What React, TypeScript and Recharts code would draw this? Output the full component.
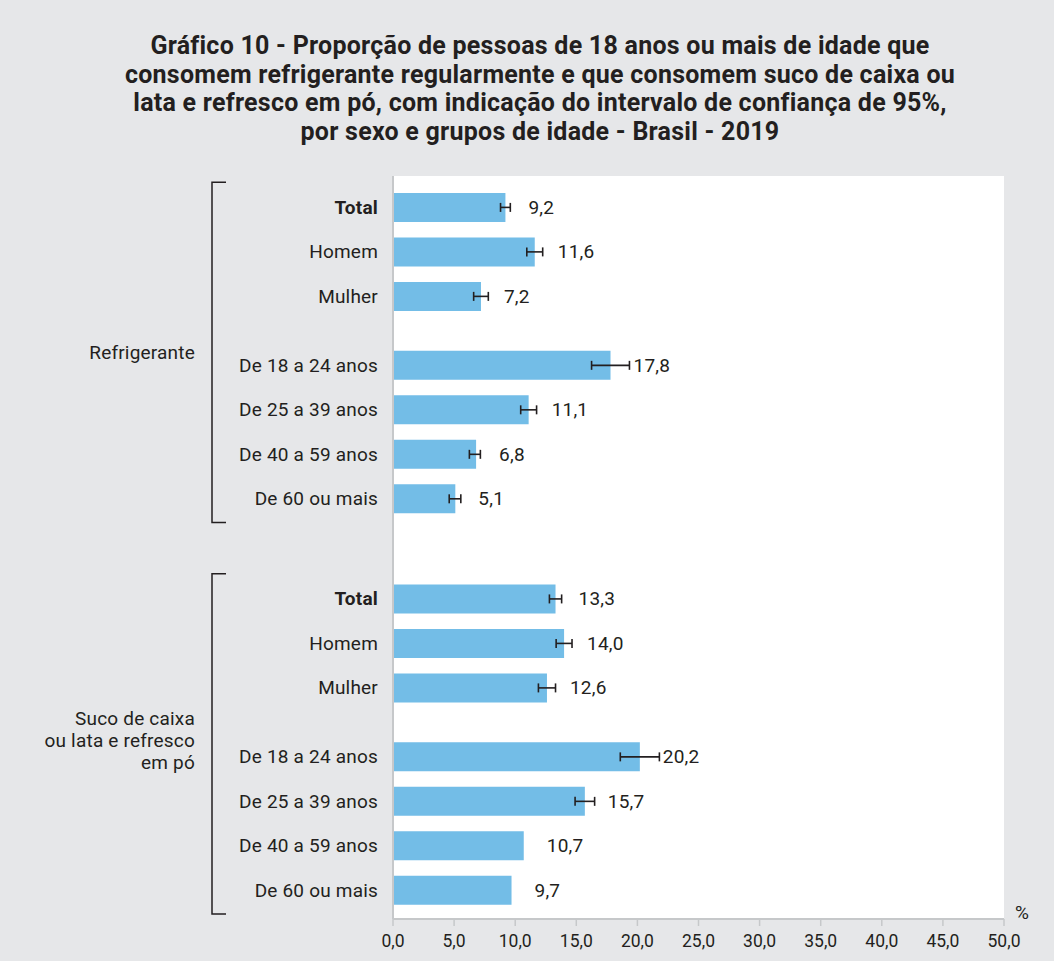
import React from 'react';
import { BarChart, Bar, XAxis, YAxis, ErrorBar, LabelList, CartesianGrid } from 'recharts';

// ---------- data ----------
const titleLines = [
  'Gráfico 10 - Proporção de pessoas de 18 anos ou mais de idade que',
  'consomem refrigerante regularmente e que consomem suco de caixa ou',
  'lata e refresco em pó, com indicação do intervalo de confiança de 95%,',
  'por sexo e grupos de idade - Brasil - 2019',
];
const groupLabels = [['Refrigerante'], ['Suco de caixa', 'ou lata e refresco', 'em pó']];
const categories = ['Total', 'Homem', 'Mulher', 'De 18 a 24 anos', 'De 25 a 39 anos', 'De 40 a 59 anos', 'De 60 ou mais'];
const refrigerante = [9.2, 11.6, 7.2, 17.8, 11.1, 6.8, 5.1];
const refrigeranteLower = [8.8, 10.95, 6.6, 16.25, 10.45, 6.25, 4.6];
const refrigeranteUpper = [9.6, 12.25, 7.8, 19.35, 11.75, 7.15, 5.55];
const suco = [13.3, 14.0, 12.6, 20.2, 15.7, 10.7, 9.7];
const sucoLower = [12.8, 13.35, 11.9, 18.6, 14.9, null, null];
const sucoUpper = [13.8, 14.65, 13.3, 21.8, 16.5, null, null];
const xTicks = [0, 5, 10, 15, 20, 25, 30, 35, 40, 45, 50];

// ---------- layout ----------
const W = 1054;
const H = 961;
const PLOT_TOP = 176;
const PLOT_LEFT = 393;
const RIGHT_MARGIN = 50;
const X_AXIS_H = 42;
const Y_MIN = -0.7;
const Y_MAX = 16.0;
const SUBGROUP_GAP = 1.55;
const GROUP_GAP = 2.25;
const GROUP_SPAN = 2 + SUBGROUP_GAP + 3 + GROUP_GAP;

const BG = '#e6e7e9';
const BORDER = '#c6c8ca';
const BAR = '#73bde7';
const TEXT = '#231f20';
const FONT = 'Roboto, "Liberation Sans", Arial, sans-serif';
const FS = 19;
const LS = 0.2;

const slotOf = (g: number, i: number) => g * GROUP_SPAN + (i < 3 ? i : i - 1 + SUBGROUP_GAP);

const values = [refrigerante, suco];
const lowers = [refrigeranteLower, sucoLower];
const uppers = [refrigeranteUpper, sucoUpper];

const rows = values.flatMap((vals, g) =>
  vals.map((v, i) => {
    const lo = lowers[g][i];
    const hi = uppers[g][i];
    return {
      slot: slotOf(g, i),
      label: categories[i],
      bold: i === 0,
      value: v,
      err: lo != null && hi != null ? [+(v - lo).toFixed(3), +(hi - v).toFixed(3)] : undefined,
    };
  })
);
const slots = rows.map((r) => r.slot);

const plotHeight = H - PLOT_TOP - X_AXIS_H;
const slotToPx = (s: number) => PLOT_TOP + ((s - Y_MIN) / (Y_MAX - Y_MIN)) * plotHeight;

const fmt = (v: number) => v.toFixed(1).replace('.', ',');

const RowTick = (props: any) => {
  const { x, y, payload } = props;
  const row = rows.find((r) => Math.abs(r.slot - payload.value) < 1e-6);
  if (!row) return null;
  return (
    <text x={x} y={y} dy={6.5} textAnchor="end" fill={TEXT} fontSize={FS} letterSpacing={LS} fontFamily={FONT} fontWeight={row.bold ? 700 : 400}>
      {row.label}
    </text>
  );
};

const ValueLabel = (props: any) => {
  const { x, y, width, height, value } = props;
  return (
    <text x={x + width + 23} y={y + height / 2} dy={6.5} fill={TEXT} fontSize={FS} letterSpacing={LS} fontFamily={FONT}>
      {fmt(value)}
    </text>
  );
};

export default function App() {
  return (
    <div style={{ position: 'absolute', left: 0, top: 0, width: W, height: H, background: BG, fontFamily: FONT, overflow: 'hidden' }}>
      <div
        style={{
          position: 'absolute',
          left: 0,
          top: 32,
          width: 1080,
          textAlign: 'center',
          fontWeight: 700,
          fontSize: 25,
          letterSpacing: 0.25,
          lineHeight: '28.7px',
          color: TEXT,
          whiteSpace: 'nowrap',
        }}
      >
        {titleLines.map((l, i) => (
          <div key={i}>{l}</div>
        ))}
      </div>

      <div style={{ position: 'absolute', left: 0, top: 0 }}>
        <BarChart
          width={W}
          height={H}
          data={rows}
          layout="vertical"
          margin={{ top: PLOT_TOP, right: RIGHT_MARGIN, bottom: 0, left: 0 }}
        >
          <CartesianGrid fill="#ffffff" horizontal={false} vertical={false} />
          <XAxis
            type="number"
            dataKey="value"
            domain={[0, 50]}
            ticks={xTicks}
            interval={0}
            tickFormatter={fmt}
            height={X_AXIS_H}
            axisLine={{ stroke: BORDER, strokeWidth: 2 }}
            tickLine={{ stroke: BORDER, strokeWidth: 1.5 }}
            tickSize={7}
            tickMargin={9}
            tick={{ fill: TEXT, fontSize: 17.5, fontFamily: FONT }}
          />
          <XAxis
            xAxisId="top"
            orientation="top"
            type="number"
            domain={[0, 50]}
            height={0}
            tick={false}
            tickLine={false}
            axisLine={{ stroke: BORDER, strokeWidth: 2 }}
          />
          <YAxis
            type="number"
            dataKey="slot"
            domain={[Y_MIN, Y_MAX]}
            ticks={slots}
            interval={0}
            width={PLOT_LEFT}
            tick={<RowTick />}
            tickLine={false}
            tickSize={0}
            tickMargin={15}
            axisLine={{ stroke: BORDER, strokeWidth: 2 }}
          />
          <YAxis
            yAxisId="right"
            orientation="right"
            type="number"
            domain={[Y_MIN, Y_MAX]}
            width={0}
            tick={false}
            tickLine={false}
            axisLine={{ stroke: BORDER, strokeWidth: 2 }}
          />
          <Bar dataKey="value" fill={BAR} barSize={29} isAnimationActive={false}>
            <ErrorBar dataKey="err" direction="x" width={4.5} stroke={TEXT} strokeWidth={1.6} />
            <LabelList dataKey="value" content={<ValueLabel />} />
          </Bar>
        </BarChart>
      </div>

      <svg width={W} height={H} style={{ position: 'absolute', left: 0, top: 0, pointerEvents: 'none' }}>
        {groupLabels.map((lines, g) => {
          const first = slotToPx(slotOf(g, 0));
          const last = slotToPx(slotOf(g, categories.length - 1));
          const top = first - 25;
          const bottom = last + 24;
          const mid = (first + last) / 2;
          const lh = 22;
          return (
            <g key={g}>
              <path d={`M226 ${top} H212 V${bottom} H226`} fill="none" stroke={TEXT} strokeWidth={1.5} />
              {lines.map((l, k) => (
                <text
                  key={k}
                  x={195}
                  y={mid + (k - (lines.length - 1) / 2) * lh - (g === 1 ? 4 : 0)}
                  dy={6.5}
                  textAnchor="end"
                  fill={TEXT}
                  fontSize={FS}
                  letterSpacing={LS}
                  fontFamily={FONT}
                >
                  {l}
                </text>
              ))}
            </g>
          );
        })}
        <text x={1022} y={912} dy={6.5} textAnchor="middle" fill={TEXT} fontSize={FS} fontFamily={FONT}>
          %
        </text>
      </svg>
    </div>
  );
}
